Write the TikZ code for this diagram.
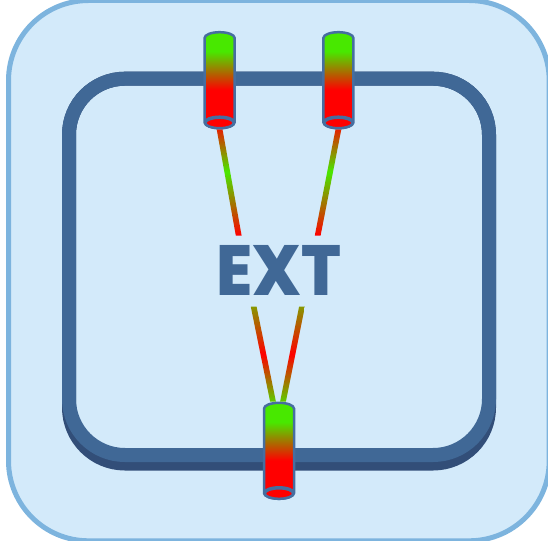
\documentclass[tikz,border=0pt]{standalone}
\usepackage{fontspec}
\usetikzlibrary{shapes.geometric,calc}
\newfontfamily\extfont{Poppins ExtraBold}
\definecolor{panelfill}{RGB}{211,234,250}
\definecolor{panelline}{RGB}{125,180,222}
\definecolor{framecol}{RGB}{64,104,150}
\definecolor{frameshadow}{RGB}{50,78,120}
\definecolor{tubeline}{RGB}{70,110,160}
\definecolor{tubegreen}{RGB}{72,232,0}
\definecolor{tubered}{RGB}{255,0,0}
\pgfdeclareverticalshading{tubeshade}{100bp}{color(0bp)=(tubered); color(45bp)=(tubered); color(65bp)=(tubegreen); color(100bp)=(tubegreen)}
\pgfdeclareverticalshading{wireup}{100bp}{color(0bp)=(tubered); color(25bp)=(tubered); color(55bp)=(tubegreen); color(75bp)=(tubered!85!tubegreen); color(100bp)=(tubered)}
\pgfdeclareverticalshading{wiredown}{100bp}{color(0bp)=(tubegreen); color(25bp)=(tubered!12!tubegreen); color(50bp)=(tubered); color(75bp)=(tubered!35!tubegreen); color(100bp)=(tubegreen)}
\tikzset{x=1pt,y=-1pt,
    tube/.style={cylinder,shape border rotate=270,shape aspect=0.41,draw=tubeline,line width=2.5pt,shading=tubeshade,minimum width=30pt,minimum height=96pt,inner sep=14pt,anchor=shape center},
    tubeend/.style={draw=tubeline,line width=2.5pt,fill=tubered},
    wire/.style={to path={($(\tikztostart)+(-2.9,0)$) -- ($(\tikztostart)+(2.9,0)$) -- ($(\tikztotarget)+(2.9,0)$) -- ($(\tikztotarget)+(-2.9,0)$) -- cycle}},
    extlabel/.style={text=framecol,font=\extfont\fontsize{71}{71}\selectfont,inner sep=0pt,xscale=0.93}}

\begin{document}
\begin{tikzpicture}
    \useasboundingbox (0,0) rectangle (548,540);
    \draw[panelline,fill=panelfill,line width=5pt,rounded corners=80pt] (8.5,0.5) rectangle (549.2,540.8);
    \draw[frameshadow,line width=14pt,rounded corners=56pt] (69,78.7) rectangle (489,463.5);
    \draw[framecol,line width=14pt,rounded corners=56pt] (69,78.7) rectangle (489,455);

    \node[extlabel] (ext) at (279.2,270.7) {EXT};
    \coordinate (upa) at (238.7,235.5);
    \coordinate (upb) at (317.7,235.5);
    \coordinate (downa) at (253.7,306.7);
    \coordinate (downb) at (302,306.7);

    \node[tube] (tubea) at (219.6,80.2) {};
    \node[tube,right of=tubea,node distance=118.8pt] (tubeb) {};
    \node[tube] (tubec) at (279,450.8) {};

    \shade[shading=wireup] (tubea.south) to[wire] (upa);
    \shade[shading=wireup] (tubeb.south) to[wire] (upb);
    \shade[shading=wiredown] (downa) to[wire] ($(tubec.north)+(-6,0)$);
    \shade[shading=wiredown] (downb) to[wire] ($(tubec.north)+(4,0)$);

    \foreach \n in {tubea,tubeb,tubec}
        \draw[tubeend] ($(\n.south)+(0,-6.5)$) ellipse (14.2 and 5.25);
\end{tikzpicture}
\end{document}
